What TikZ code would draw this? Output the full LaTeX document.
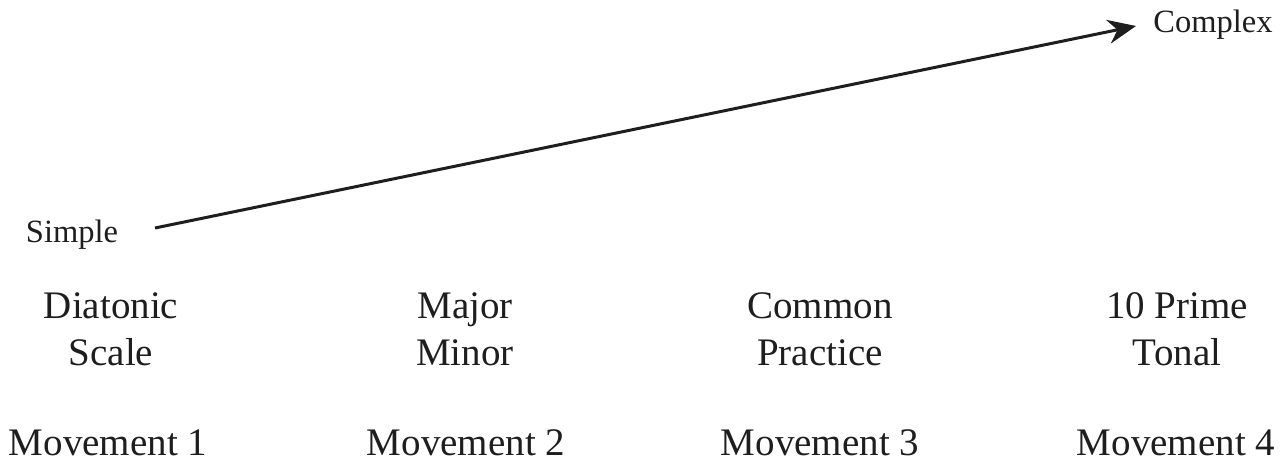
\documentclass[tikz,border=0pt]{standalone}
\usepackage{fontspec}
\setmainfont{Liberation Serif}
\usetikzlibrary{arrows.meta}
\definecolor{ink}{HTML}{1E1E1E}
\begin{document}
\begin{tikzpicture}[x=1pt,y=-1pt,
  big/.style={font=\fontsize{39}{47}\selectfont, align=center, inner sep=0pt, text=ink},
  small/.style={font=\fontsize{32.5}{38}\selectfont, inner sep=0pt, text=ink},
  arr/.style={line width=3pt, draw=ink, -{Stealth[length=28pt,width=24pt]}}]
\useasboundingbox (0,0) rectangle (1288,469);
\node[small] (simple) at (72,235) {Simple};
\node[small] (complex) at (1213,25) {Complex};
\node[big] (d1) at (111,329) {Diatonic\\Scale};
\node[big] (d2) at (465,329) {Major\\Minor};
\node[big] (d3) at (820,329) {Common\\Practice};
\node[big] (d4) at (1177,329) {10 Prime\\Tonal};
\node[big] (m1) at (108,443) {Movement 1};
\node[big] (m2) at (466,443) {Movement 2};
\node[big] (m3) at (820,443) {Movement 3};
\node[big] (m4) at (1176,443) {Movement 4};
\coordinate (s) at (155,228);
\coordinate (e) at (1136,26);
\draw[arr] (s) -- (e);
\end{tikzpicture}
\end{document}
